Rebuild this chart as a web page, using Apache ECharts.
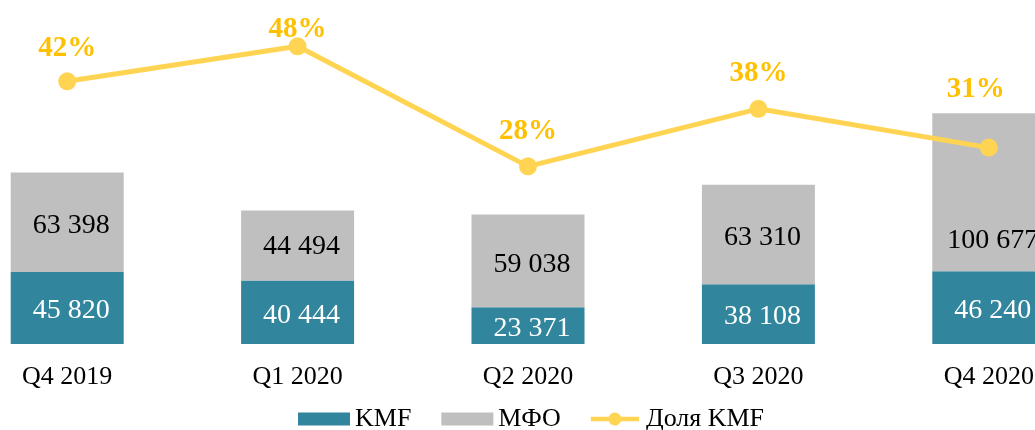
<!DOCTYPE html>
<html>
<head>
<meta charset="utf-8">
<style>
  html, body { margin: 0; padding: 0; background: #fff; }
  #chart { width: 1035px; height: 430px; }
</style>
<script src="https://cdn.jsdelivr.net/npm/echarts@6/dist/echarts.min.js"></script>
</head>
<body>
<div id="chart"></div>
<script>
const QUARTERS = ["Q4 2019", "Q1 2020", "Q2 2020", "Q3 2020", "Q4 2020"];
const KMF_VALUES = [45820, 40444, 23371, 38108, 46240];
const MFO_VALUES = [63398, 44494, 59038, 63310, 100677];
const KMF_SHARE = [42.0, 47.6, 28.4, 37.6, 31.4];

const FONT = "'Liberation Serif', 'Times New Roman', serif";
const TEAL = "#31859c";
const GRAY = "#bfbfbf";
const YELLOW = "#ffd452";

// line-with-dot legend marker (thicker than the default one)
const LINE_DOT_ICON =
  "path://M0 4L19.46 4A7 7 0 0 1 32.54 4L52 4L52 9L32.54 9A7 7 0 0 1 19.46 9L0 9Z";

function formatNumber(value) {
  return String(value).replace(/\B(?=(\d{3})+(?!\d))/g, " ");
}

// manual label nudges, like the original hand-placed labels
const shareLabelOffsets = [[0, -4], [0, 12], [0, -6], [0, -7], [-13, -30]];
const mfoLabelOffsets = [[4, 3], [4, 1], [4, 4], [4, 3], [4, 48]];

const chart = echarts.init(document.getElementById("chart"));

chart.setOption({
  animation: false,
  textStyle: { fontFamily: FONT },
  grid: { left: -48, right: -69, top: 0, bottom: 86, outerBoundsMode: "none" },
  legend: {
    left: 293,
    top: 401,
    itemWidth: 52,
    itemHeight: 13,
    itemGap: 30,
    textStyle: { fontFamily: FONT, fontSize: 26, color: "#000" },
    data: [
      { name: "KMF", icon: "rect" },
      { name: "МФО", icon: "rect" },
      { name: "Доля KMF", icon: LINE_DOT_ICON },
    ],
  },
  xAxis: {
    type: "category",
    data: QUARTERS,
    axisLine: { show: false },
    axisTick: { show: false },
    axisLabel: { fontFamily: FONT, fontSize: 26, color: "#000", margin: 20 },
  },
  yAxis: [
    { type: "value", min: 0, max: 219000, show: false },
    { type: "value", min: 0, max: 55, show: false },
  ],
  series: [
    {
      name: "KMF",
      type: "bar",
      stack: "total",
      barWidth: 113,
      itemStyle: { color: TEAL },
      label: {
        show: true,
        position: "inside",
        offset: [4, 3],
        fontFamily: FONT,
        fontSize: 28,
        color: "#fff",
        formatter: (p) => formatNumber(p.value),
      },
      data: KMF_VALUES,
    },
    {
      name: "МФО",
      type: "bar",
      stack: "total",
      barWidth: 113,
      itemStyle: { color: GRAY },
      label: {
        show: true,
        position: "inside",
        fontFamily: FONT,
        fontSize: 28,
        color: "#000",
        formatter: (p) => formatNumber(p.value),
      },
      data: MFO_VALUES.map((value, i) => ({
        value,
        label: { offset: mfoLabelOffsets[i] },
      })),
    },
    {
      name: "Доля KMF",
      type: "line",
      yAxisIndex: 1,
      symbol: "circle",
      symbolSize: 18,
      lineStyle: { color: YELLOW, width: 5 },
      itemStyle: { color: YELLOW },
      label: {
        show: true,
        position: "top",
        distance: 5,
        fontFamily: FONT,
        fontSize: 29,
        fontWeight: "bold",
        color: "#ffc000",
        formatter: (p) => Math.round(p.value) + "%",
      },
      data: KMF_SHARE.map((value, i) => ({
        value,
        label: { offset: shareLabelOffsets[i] },
      })),
      z: 5,
    },
  ],
});
</script>
</body>
</html>
